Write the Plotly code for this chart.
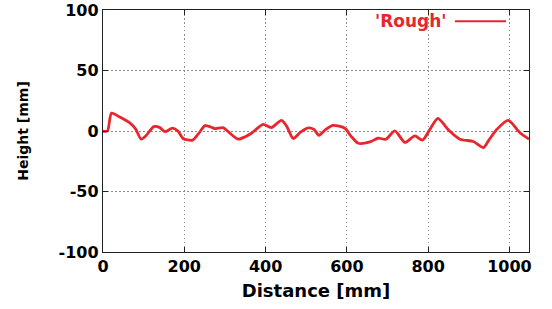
import plotly.graph_objects as go

distance_mm = [0, 11, 21, 40, 66, 80, 94, 105, 125, 140, 152, 171, 185, 197, 220, 235, 251, 265,
               275, 295, 310, 332, 350, 365, 394, 414, 439, 452, 468, 485, 505, 519, 531, 548,
               566, 595, 610, 628, 657, 677, 696, 718, 743, 767, 786, 805, 824, 850, 878, 911,
               936, 950, 969, 997, 1025, 1048]
height_mm = [0, 0.3, 15, 12, 7, 2, -6.6, -4, 3.8, 3, -0.3, 2.5, 0, -6, -7.4, -2, 4.6, 3.5,
             2.2, 3, -1, -6.6, -4.5, -1.7, 5.7, 3, 9, 4, -6, -1, 2.8, 1.5, -3.3, 1.5,
             4.9, 2.5, -4, -9.9, -8.8, -5.8, -6.6, 0.3, -9.3, -3.9, -7.4, 2, 10.7, 1, -6.6, -8.5,
             -13.5, -7, 1.6, 9, -1, -6.6]
series_name = "'Rough'"
x_ticks = [0, 200, 400, 600, 800, 1000]
y_ticks = [-100, -50, 0, 50, 100]
y_tick_labels = ["-100", "-50", "0", "50", "100"]

RED = "#e8262e"
FONT = "DejaVu Sans"

fig = go.Figure()
fig.add_trace(go.Scatter(x=distance_mm, y=height_mm, mode="lines", name=series_name,
                         line=dict(color=RED, width=2.8, shape="spline", smoothing=0.7),
                         showlegend=False))

axis_common = dict(showline=True, linecolor="#222222", linewidth=1.4, mirror="ticks",
                   ticks="inside", ticklen=5, tickcolor="#222222",
                   showgrid=True, gridcolor="#8c8c8c", griddash="1.5px,2.5px", gridwidth=1,
                   zeroline=False, automargin=False, ticklabeloverflow="allow",
                   tickfont=dict(family=FONT, size=16, color="black", weight="bold"))

fig.update_xaxes(range=[0, 1048], tickvals=x_ticks, **axis_common,
                 title=dict(text="<b>Distance [mm]</b>", font=dict(family=FONT, size=18, color="black"),
                            standoff=8))
fig.update_yaxes(range=[-100, 100.4], tickvals=y_ticks, ticktext=y_tick_labels, **axis_common,
                 title=dict(text="<b>Height [mm]</b>", font=dict(family=FONT, size=14, color="black"),
                            standoff=26))

# legend-like key: text then line sample (as in reference)
fig.add_annotation(x=0.812, y=0.955, xref="paper", yref="paper", text="<b>" + series_name + "</b>",
                   showarrow=False, xanchor="right", yanchor="middle",
                   font=dict(family=FONT, size=17, color=RED))
fig.add_shape(type="line", xref="paper", yref="paper", x0=0.826, x1=0.946, y0=0.953, y1=0.953,
              line=dict(color=RED, width=2))

fig.update_layout(width=552, height=309, margin=dict(l=103, r=23, t=10, b=57),
                  plot_bgcolor="white", paper_bgcolor="white",
                  font=dict(family=FONT, color="black"))

fig.write_html("out.html", config={"displayModeBar": False},
               post_script="document.body.style.margin='0';document.body.style.overflow='hidden';")
